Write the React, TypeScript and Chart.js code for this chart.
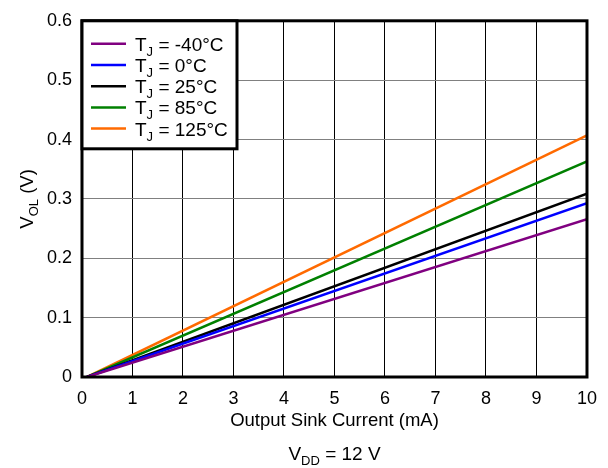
import React, { useEffect, useRef } from "react";
import { Chart, registerables } from "chart.js";

Chart.register(...registerables);

const currents = [0.1, 10];
const tempLabels = ["-40°C", "0°C", "25°C", "85°C", "125°C"];
const volM40 = [0, 0.266];
const vol0 = [0, 0.293];
const vol25 = [0, 0.309];
const vol85 = [0, 0.363];
const vol125 = [0, 0.407];
const seriesValues = [volM40, vol0, vol25, vol85, vol125];
const colors = ["#800080", "#0000FF", "#000000", "#008000", "#FF6A00"];
const xTicks = [0, 1, 2, 3, 4, 5, 6, 7, 8, 9, 10];
const yTicks = [0, 0.1, 0.2, 0.3, 0.4, 0.5, 0.6];

const FONT = "Liberation Sans, Arial, sans-serif";

type Seg = { t: string; sub?: boolean };

function measureRich(ctx: CanvasRenderingContext2D, segs: Seg[], size: number, subSize: number) {
  let w = 0;
  for (const s of segs) {
    ctx.font = `${s.sub ? subSize : size}px ${FONT}`;
    w += ctx.measureText(s.t).width;
  }
  return w;
}

function drawRich(
  ctx: CanvasRenderingContext2D,
  x: number,
  y: number,
  segs: Seg[],
  size: number,
  subSize: number,
  align: "left" | "center"
) {
  const w = measureRich(ctx, segs, size, subSize);
  let cx = align === "center" ? x - w / 2 : x;
  ctx.textAlign = "left";
  ctx.textBaseline = "alphabetic";
  ctx.fillStyle = "#000";
  for (const s of segs) {
    ctx.font = `${s.sub ? subSize : size}px ${FONT}`;
    ctx.fillText(s.t, cx, y + (s.sub ? 5 : 0));
    cx += ctx.measureText(s.t).width;
  }
}

const decorPlugin = {
  id: "decor",
  afterDraw(chart: any) {
    const ctx: CanvasRenderingContext2D = chart.ctx;
    const a = chart.chartArea;
    ctx.save();
    // frame
    ctx.strokeStyle = "#000";
    ctx.lineWidth = 3;
    ctx.strokeRect(a.left, a.top, a.right - a.left, a.bottom - a.top);

    // legend box
    const lx = a.left;
    const ly = a.top;
    const lw = 155;
    const lh = 128;
    ctx.fillStyle = "#fff";
    ctx.fillRect(lx, ly, lw, lh);
    ctx.lineWidth = 3;
    ctx.strokeRect(lx, ly, lw, lh);
    tempLabels.forEach((lab, i) => {
      const yy = ly + 23 + i * 21.2;
      ctx.strokeStyle = colors[i];
      ctx.lineWidth = 2.5;
      ctx.beginPath();
      ctx.moveTo(lx + 9, yy);
      ctx.lineTo(lx + 44, yy);
      ctx.stroke();
      drawRich(ctx, lx + 53, yy + 7, [{ t: "T" }, { t: "J", sub: true }, { t: " = " + lab }], 19, 13, "left");
    });

    // x title
    drawRich(ctx, (a.left + a.right) / 2, 426, [{ t: "Output Sink Current (mA)" }], 18.5, 13, "center");
    // VDD note
    drawRich(ctx, (a.left + a.right) / 2, 460, [{ t: "V" }, { t: "DD", sub: true }, { t: " = 12 V" }], 19, 13, "center");
    // y title
    ctx.save();
    ctx.translate(33, (a.top + a.bottom) / 2);
    ctx.rotate(-Math.PI / 2);
    drawRich(ctx, 0, 0, [{ t: "V" }, { t: "OL", sub: true }, { t: " (V)" }], 18.5, 13, "center");
    ctx.restore();
    ctx.restore();
  },
};

export default function App() {
  const ref = useRef<HTMLCanvasElement | null>(null);
  useEffect(() => {
    document.body.style.margin = "0";
    const canvas = ref.current!;
    const chart = new Chart(canvas, {
      type: "line",
      data: {
        datasets: seriesValues.map((vals, i) => ({
          label: "TJ = " + tempLabels[i],
          data: vals.map((v, j) => ({ x: currents[j], y: v })),
          borderColor: colors[i],
          backgroundColor: colors[i],
          borderWidth: 2.5,
          pointRadius: 0,
          fill: false,
          tension: 0,
        })),
      },
      options: {
        animation: false,
        responsive: false,
        maintainAspectRatio: false,
        layout: { padding: { left: 0, right: 19, top: 16, bottom: 0 } },
        plugins: { legend: { display: false }, tooltip: { enabled: false } },
        scales: {
          x: {
            type: "linear",
            min: 0,
            max: 10,
            afterBuildTicks: (axis: any) => {
              axis.ticks = xTicks.map((v) => ({ value: v }));
            },
            afterFit: (axis: any) => {
              axis.height = 91;
            },
            grid: { color: "#000", lineWidth: 1, drawTicks: false },
            border: { display: false },
            ticks: {
              color: "#000",
              font: { family: FONT, size: 18 },
              padding: 11,
              maxRotation: 0,
              autoSkip: false,
            },
          },
          y: {
            type: "linear",
            min: 0,
            max: 0.6,
            afterBuildTicks: (axis: any) => {
              axis.ticks = yTicks.map((v) => ({ value: v }));
            },
            afterFit: (axis: any) => {
              axis.width = 82;
            },
            grid: { color: "#808080", lineWidth: 1, drawTicks: false },
            border: { display: false },
            ticks: {
              color: "#000",
              font: { family: FONT, size: 18 },
              padding: 10,
              callback: (v: any) => String(Math.round(Number(v) * 10) / 10),
            },
          },
        },
      },
      plugins: [decorPlugin],
    } as any);
    return () => chart.destroy();
  }, []);
  return (
    <div style={{ width: 608, height: 468, background: "#fff" }}>
      <canvas ref={ref} width={608} height={468} style={{ display: "block" }} />
    </div>
  );
}
